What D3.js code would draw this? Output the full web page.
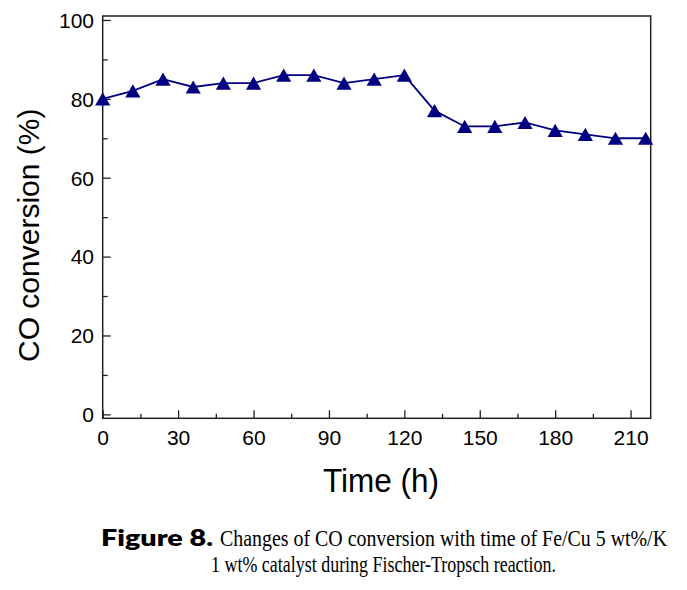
<!DOCTYPE html>
<html>
<head>
<meta charset="utf-8">
<script src="https://cdn.jsdelivr.net/npm/d3@7"></script>
<style>
  html, body { margin: 0; padding: 0; background: #fff; }
  svg { display: block; }
</style>
</head>
<body>
<svg id="chart" width="687" height="590"></svg>
<script>
// ---- data ----
const timeHours = [0, 12, 24, 36, 48, 60, 72, 84, 96, 108, 120, 132, 144, 156, 168, 180, 192, 204, 216];
const coConversion = [80, 82, 85, 83, 84, 84, 86, 86, 84, 85, 86, 77, 73, 73, 74, 72, 71, 70, 70];
const xTickValues = [0, 30, 60, 90, 120, 150, 180, 210];
const xMinorTicks = [15, 45, 75, 105, 135, 165, 195];
const yTickValues = [0, 20, 40, 60, 80, 100];
const yMinorTicks = [10, 30, 50, 70, 90];
const xLabel = "Time (h)";
const yLabel = "CO conversion (%)";
const captionBold = "Figure 8.";
const captionLine1 = "Changes of CO conversion with time of Fe/Cu 5 wt%/K";
const captionLine2 = "1 wt% catalyst during Fischer-Tropsch reaction.";

// ---- layout ----
const L = 102.7, R = 650.7, T = 16, B = 418.3;
const svg = d3.select("#chart");
const x = d3.scaleLinear().domain([0, 218]).range([L, R]);
const y = d3.scaleLinear().domain([-1, 101]).range([B, T]);
const axisColor = "#222";
const seriesColor = "#000080";
const tickFont = "Liberation Sans, Arial, sans-serif";
const serif = "Liberation Serif, 'Times New Roman', serif";

// x axis major
const gx = svg.append("g").attr("transform", `translate(0,${B})`)
  .call(d3.axisBottom(x).tickValues(xTickValues).tickSizeInner(-8).tickSizeOuter(0).tickFormat(d3.format("d")));
gx.select(".domain").remove();
gx.selectAll("line").attr("stroke", axisColor).attr("stroke-width", 1.3);
gx.selectAll("text").attr("y", 26.7).attr("dy", null)
  .attr("font-family", tickFont).attr("font-size", 21).attr("fill", "#000");
// x minor
const gxm = svg.append("g").attr("transform", `translate(0,${B})`)
  .call(d3.axisBottom(x).tickValues(xMinorTicks).tickSizeInner(-4.5).tickSizeOuter(0).tickFormat(""));
gxm.select(".domain").remove();
gxm.selectAll("line").attr("stroke", axisColor).attr("stroke-width", 1.3);

// y axis major
const gy = svg.append("g").attr("transform", `translate(${L},0)`)
  .call(d3.axisLeft(y).tickValues(yTickValues).tickSizeInner(-8).tickSizeOuter(0).tickFormat(d3.format("d")));
gy.select(".domain").remove();
gy.selectAll("line").attr("stroke", axisColor).attr("stroke-width", 1.3);
gy.selectAll("text").attr("x", -8.7).attr("dy", "0.35em")
  .attr("font-family", tickFont).attr("font-size", 21).attr("fill", "#000");
// y minor
const gym = svg.append("g").attr("transform", `translate(${L},0)`)
  .call(d3.axisLeft(y).tickValues(yMinorTicks).tickSizeInner(-5).tickSizeOuter(0).tickFormat(""));
gym.select(".domain").remove();
gym.selectAll("line").attr("stroke", axisColor).attr("stroke-width", 1.3);

// frame
svg.append("rect").attr("x", L).attr("y", T).attr("width", R - L).attr("height", B - T)
  .attr("fill", "none").attr("stroke", axisColor).attr("stroke-width", 1.5);

// series
const data = timeHours.map((t, i) => ({ t, v: coConversion[i] }));
svg.append("path").datum(data)
  .attr("fill", "none").attr("stroke", seriesColor).attr("stroke-width", 1.8)
  .attr("d", d3.line().x(d => x(d.t)).y(d => y(d.v)));
const tri = d3.symbol(d3.symbolTriangle, 100);
svg.append("g").selectAll("path").data(data).join("path")
  .attr("d", tri)
  .attr("transform", d => `translate(${x(d.t)},${y(d.v) + 2.2})`)
  .attr("fill", seriesColor);

// axis titles
svg.append("text").attr("x", 323).attr("y", 491.5)
  .attr("font-family", tickFont).attr("font-size", 34)
  .attr("textLength", 116).attr("lengthAdjust", "spacingAndGlyphs")
  .attr("fill", "#000").text(xLabel);
svg.append("text").attr("transform", "translate(38.5,362) rotate(-90)")
  .attr("font-family", tickFont).attr("font-size", 30)
  .attr("fill", "#000").text(yLabel);

// caption
svg.append("text").attr("x", 101).attr("y", 546)
  .attr("font-family", "Lato, 'DejaVu Sans', sans-serif").attr("font-weight", 800)
  .attr("font-size", 23).attr("textLength", 112).attr("lengthAdjust", "spacingAndGlyphs")
  .attr("fill", "#000").text(captionBold);
svg.append("text").attr("x", 220).attr("y", 546)
  .attr("font-family", serif).attr("font-size", 23)
  .attr("textLength", 447).attr("lengthAdjust", "spacingAndGlyphs")
  .attr("fill", "#000").text(captionLine1);
svg.append("text").attr("x", 211).attr("y", 572)
  .attr("font-family", serif).attr("font-size", 23)
  .attr("textLength", 345).attr("lengthAdjust", "spacingAndGlyphs")
  .attr("fill", "#000").text(captionLine2);
</script>
</body>
</html>
